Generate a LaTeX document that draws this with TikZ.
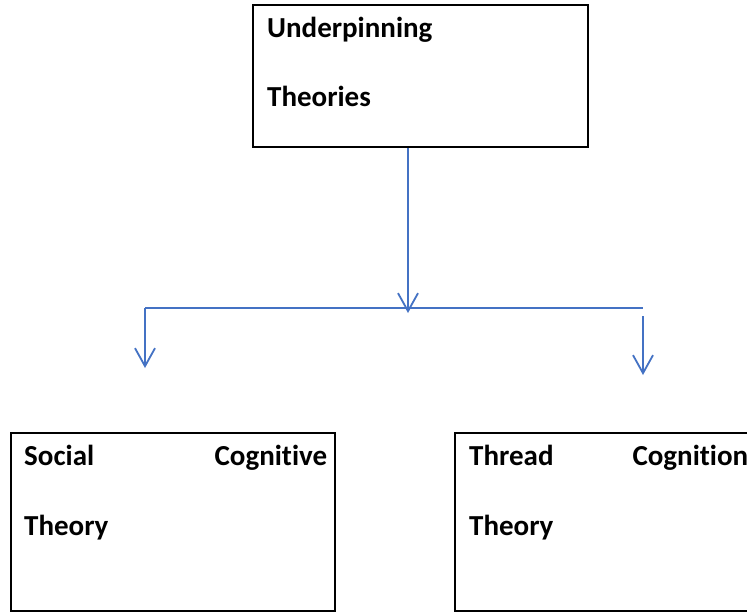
\documentclass[tikz,border=0pt]{standalone}
\usepackage{fontspec}
\setmainfont[Ligatures=NoCommon]{Carlito}
\usetikzlibrary{arrows.meta,positioning}
\definecolor{wordblue}{HTML}{4472C4}

\begin{document}
\begin{tikzpicture}[x=1pt,y=-1pt,
      >={Straight Barb[length=18pt,width=20pt]},
      box/.style={draw=black,line width=2pt,inner sep=0pt,minimum width=#1},
      txt/.style={inner sep=0pt,anchor=base west,font=\fontsize{29}{35}\selectfont\bfseries},
      link/.style={draw=wordblue,line width=1.8pt} ]
      \useasboundingbox (0,0) rectangle (747,613);
      \fill[white] (0,0) rectangle (747,613);
      \clip (0,0) rectangle (747,613);
      % boxes
      \node[box=335pt,minimum height=142pt] (top) at (420.5,76) {};
      \node[box=324pt,minimum height=178pt] (sct) at (173,522) {};
      \node[box=302pt,minimum height=178pt] (tct) at (606,522) {};
      % texts
      \node[txt] (top1) at ([shift={(15,33)}]top.north west) {Underpinning};
      \node[txt] (top2) at ([yshift=-69pt]top1.base west) {Theories};
      \node[txt,text width=303pt] (sct1) at ([shift={(14,33)}]sct.north west) {Social\hfill Cognitive};
      \node[txt] (sct2) at ([yshift=-70pt]sct1.base west) {Theory};
      \node[txt,text width=279pt] (tct1) at ([shift={(15,33)}]tct.north west) {Thread\hfill Cognition};
      \node[txt] (tct2) at ([yshift=-70pt]tct1.base west) {Theory};
      % connectors
      \coordinate (fork) at (408,313);
      \coordinate (lfork) at (145,308);
      \coordinate (rfork) at (643,308);
      \coordinate (ltip) at (145,368);
      \coordinate (rtop) at (643,316);
      \coordinate (rtip) at (643,375);
      \draw[link,->] (top.south -| fork) -- (fork);
      \draw[link] (lfork) -- (rfork);
      \draw[link,->] (lfork) -- (ltip);
      \draw[link,->] (rtop) -- (rtip);
\end{tikzpicture}
\end{document}
